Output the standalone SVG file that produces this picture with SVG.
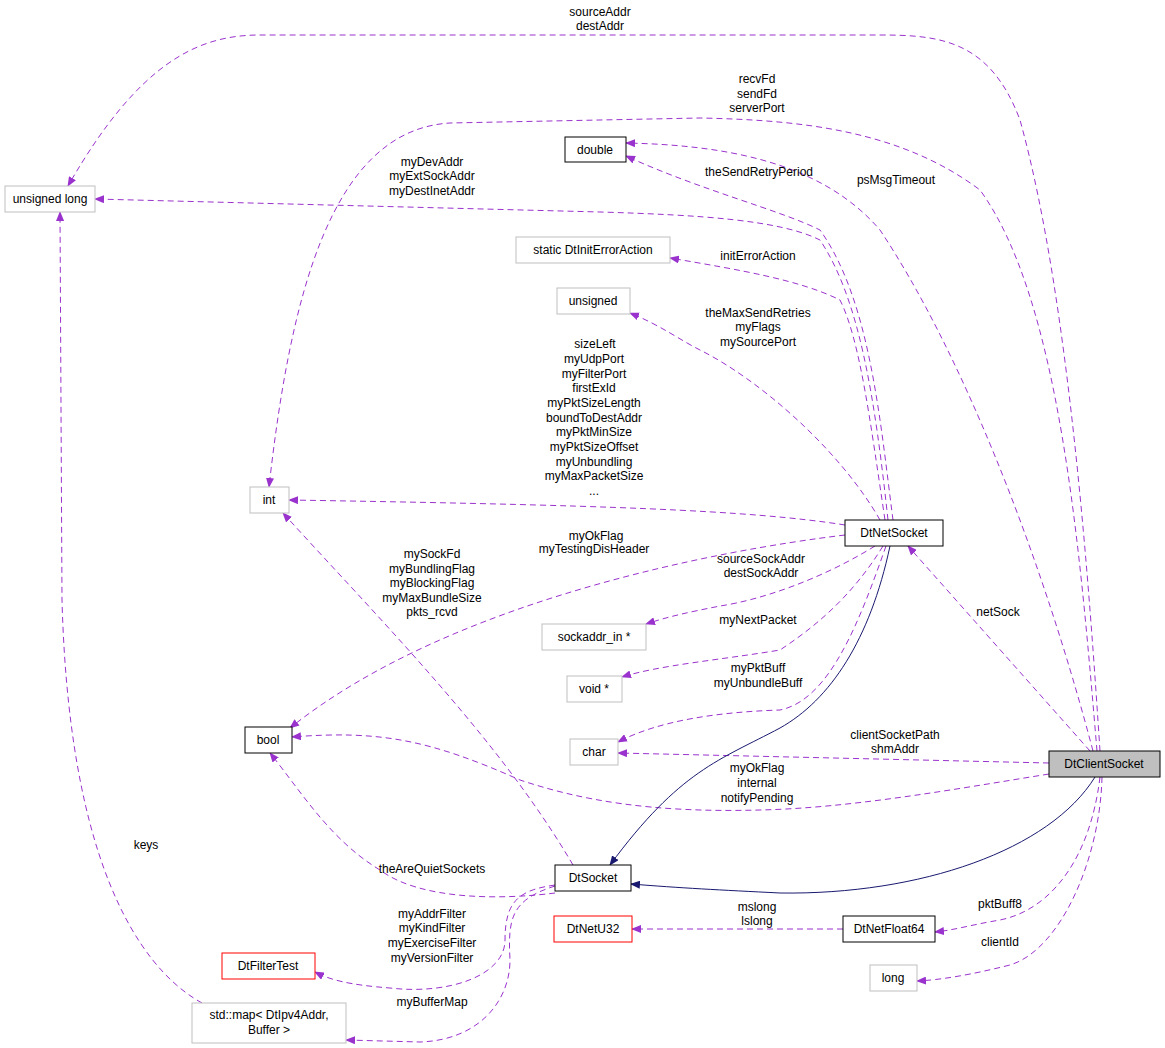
<svg xmlns="http://www.w3.org/2000/svg" width="1165" height="1048" viewBox="0 0 1165 1048">
<style>
text{font-family:"Liberation Sans",Arial,sans-serif;font-size:12px;fill:#000;text-anchor:middle}
.n rect{fill:#fff;stroke:#bfbfbf;stroke-width:1}
.b rect{stroke:#000}
.r rect{stroke:#ff0000}
.g rect{fill:#bfbfbf;stroke:#000}
.e path{fill:none;stroke:#9a32cd;stroke-dasharray:6,4;stroke-width:1}
.e path.s{stroke:#191970;stroke-dasharray:none}
</style>
<defs>
<marker id="a" markerWidth="10" markerHeight="8" refX="9" refY="4" orient="auto" markerUnits="userSpaceOnUse"><path d="M0,0L10,4L0,8z" fill="#9a32cd"/></marker>
<marker id="i" markerWidth="10" markerHeight="8" refX="9" refY="4" orient="auto" markerUnits="userSpaceOnUse"><path d="M0,0L10,4L0,8z" fill="#191970"/></marker>
</defs>
<rect width="1165" height="1048" fill="#fff"/>
<g id="edges" class="e">
<path marker-end="url(#a)" d="M1100,751C1090,600 1070,300 1020,120C990,40 940,35 880,35L260,35C200,35 140,60 68,186"/>
<path marker-end="url(#a)" d="M1097,751C1080,550 1060,300 980,190C900,130 800,120 700,118L450,123C330,130 290,300 269,487"/>
<path marker-end="url(#a)" d="M1093,751C1040,550 960,350 880,230C820,160 720,145 626,143"/>
<path marker-end="url(#a)" d="M893,520C880,420 870,300 820,230C780,210 700,190 626,156"/>
<path marker-end="url(#a)" d="M888,520C875,400 860,300 820,240C780,220 700,215 600,212L95,199"/>
<path marker-end="url(#a)" d="M885,520C870,420 860,340 840,300C800,280 740,270 670,258"/>
<path marker-end="url(#a)" d="M880,520C840,450 760,380 700,350C680,340 660,325 630,313"/>
<path marker-end="url(#a)" d="M845,525C750,510 600,505 289,500"/>
<path marker-end="url(#a)" d="M845,535C720,550 450,600 290,728"/>
<path marker-end="url(#a)" d="M875,546C820,580 760,600 720,606C690,612 670,616 646,624"/>
<path marker-end="url(#a)" d="M883,546C850,600 810,630 780,650C720,660 660,665 622,677"/>
<path marker-end="url(#a)" d="M886,546C860,620 830,700 780,710C720,712 660,720 618,742"/>
<path marker-end="url(#a)" d="M1090,751L908,546"/>
<path marker-end="url(#a)" d="M1049,763L618,753"/>
<path marker-end="url(#a)" d="M1049,774C950,790 850,808 760,810C650,813 580,800 520,780C430,740 380,730 292,737"/>
<path class="s" marker-end="url(#i)" d="M890,546C870,640 830,700 780,728C720,760 680,770 610,865"/>
<path class="s" marker-end="url(#i)" d="M1095,777C1050,850 920,895 780,893C720,890 680,888 631,884"/>
<path marker-end="url(#a)" d="M573,865C500,740 380,620 283,513"/>
<path marker-end="url(#a)" d="M555,893C500,900 420,900 380,870C330,840 300,790 270,753"/>
<path marker-end="url(#a)" d="M555,885C520,890 505,900 505,940C505,975 450,995 390,988C350,985 330,980 315,972"/>
<path marker-end="url(#a)" d="M555,886C510,900 508,920 510,960C510,1000 480,1040 420,1042L346,1040"/>
<path marker-end="url(#a)" d="M202,1003C160,980 70,900 62,600L60,212"/>
<path marker-end="url(#a)" d="M843,929L632,929"/>
<path marker-end="url(#a)" d="M1100,777C1090,860 1050,910 1000,920C970,925 955,930 935,932"/>
<path marker-end="url(#a)" d="M1102,777C1100,860 1060,950 1010,965C970,975 940,980 917,981"/>
</g>
<g id="labels">
<text x="600" y="16">sourceAddr</text><text x="600" y="30">destAddr</text>
<text x="757" y="83">recvFd</text><text x="757" y="98">sendFd</text><text x="757" y="112">serverPort</text>
<text x="896" y="184">psMsgTimeout</text>
<text x="759" y="176">theSendRetryPeriod</text>
<text x="432" y="166">myDevAddr</text><text x="432" y="180">myExtSockAddr</text><text x="432" y="195">myDestInetAddr</text>
<text x="758" y="260">initErrorAction</text>
<text x="758" y="317">theMaxSendRetries</text><text x="758" y="331">myFlags</text><text x="758" y="346">mySourcePort</text>
<text x="595" y="348">sizeLeft</text><text x="594" y="363">myUdpPort</text><text x="594" y="378">myFilterPort</text><text x="594" y="392">firstExId</text><text x="594" y="407">myPktSizeLength</text><text x="594" y="422">boundToDestAddr</text><text x="594" y="436">myPktMinSize</text><text x="594" y="451">myPktSizeOffset</text><text x="594" y="466">myUnbundling</text><text x="594" y="480">myMaxPacketSize</text><text x="594" y="495">...</text>
<text x="596" y="540">myOkFlag</text><text x="594" y="553">myTestingDisHeader</text>
<text x="432" y="558">mySockFd</text><text x="432" y="573">myBundlingFlag</text><text x="432" y="587">myBlockingFlag</text><text x="432" y="602">myMaxBundleSize</text><text x="432" y="616">pkts_rcvd</text>
<text x="761" y="563">sourceSockAddr</text><text x="761" y="577">destSockAddr</text>
<text x="758" y="624">myNextPacket</text>
<text x="758" y="672">myPktBuff</text><text x="758" y="687">myUnbundleBuff</text>
<text x="998" y="616">netSock</text>
<text x="895" y="739">clientSocketPath</text><text x="895" y="753">shmAddr</text>
<text x="757" y="772">myOkFlag</text><text x="757" y="787">internal</text><text x="757" y="802">notifyPending</text>
<text x="432" y="873">theAreQuietSockets</text>
<text x="432" y="918">myAddrFilter</text><text x="432" y="932">myKindFilter</text><text x="432" y="947">myExerciseFilter</text><text x="432" y="962">myVersionFilter</text>
<text x="432" y="1006">myBufferMap</text>
<text x="146" y="849">keys</text>
<text x="757" y="911">mslong</text><text x="757" y="925">lslong</text>
<text x="1000" y="908">pktBuff8</text>
<text x="1000" y="946">clientId</text>
</g>
<g id="n_ulong" class="n"><rect x="5" y="186" width="90" height="26"/><text x="50" y="203">unsigned long</text></g>
<g id="n_double" class="n b"><rect x="565" y="137" width="61" height="25"/><text x="595" y="154">double</text></g>
<g id="n_initerr" class="n"><rect x="516" y="237" width="154" height="26"/><text x="593" y="254">static DtInitErrorAction</text></g>
<g id="n_unsigned" class="n"><rect x="557" y="288" width="73" height="26"/><text x="593" y="305">unsigned</text></g>
<g id="n_int" class="n"><rect x="250" y="487" width="39" height="26"/><text x="269" y="504">int</text></g>
<g id="n_netsock" class="n b"><rect x="845" y="520" width="98" height="26"/><text x="894" y="537">DtNetSocket</text></g>
<g id="n_bool" class="n b"><rect x="245" y="727" width="47" height="26"/><text x="268" y="744">bool</text></g>
<g id="n_sockaddr" class="n"><rect x="542" y="624" width="104" height="26"/><text x="594" y="641">sockaddr_in *</text></g>
<g id="n_void" class="n"><rect x="567" y="676" width="55" height="26"/><text x="594" y="693">void *</text></g>
<g id="n_char" class="n"><rect x="570" y="739" width="48" height="26"/><text x="594" y="756">char</text></g>
<g id="n_client" class="n g"><rect x="1049" y="751" width="111" height="26"/><text x="1104" y="768">DtClientSocket</text></g>
<g id="n_socket" class="n b"><rect x="555" y="865" width="76" height="26"/><text x="593" y="882">DtSocket</text></g>
<g id="n_u32" class="n r"><rect x="554" y="916" width="78" height="26"/><text x="593" y="933">DtNetU32</text></g>
<g id="n_f64" class="n b"><rect x="843" y="916" width="92" height="26"/><text x="889" y="933">DtNetFloat64</text></g>
<g id="n_filter" class="n r"><rect x="222" y="953" width="93" height="26"/><text x="268" y="970">DtFilterTest</text></g>
<g id="n_long" class="n"><rect x="870" y="965" width="47" height="26"/><text x="893" y="982">long</text></g>
<g id="n_map" class="n"><rect x="192" y="1003" width="154" height="40"/><text x="269" y="1019">std::map&lt; DtIpv4Addr,</text><text x="269" y="1034">Buffer &gt;</text></g>
</svg>
